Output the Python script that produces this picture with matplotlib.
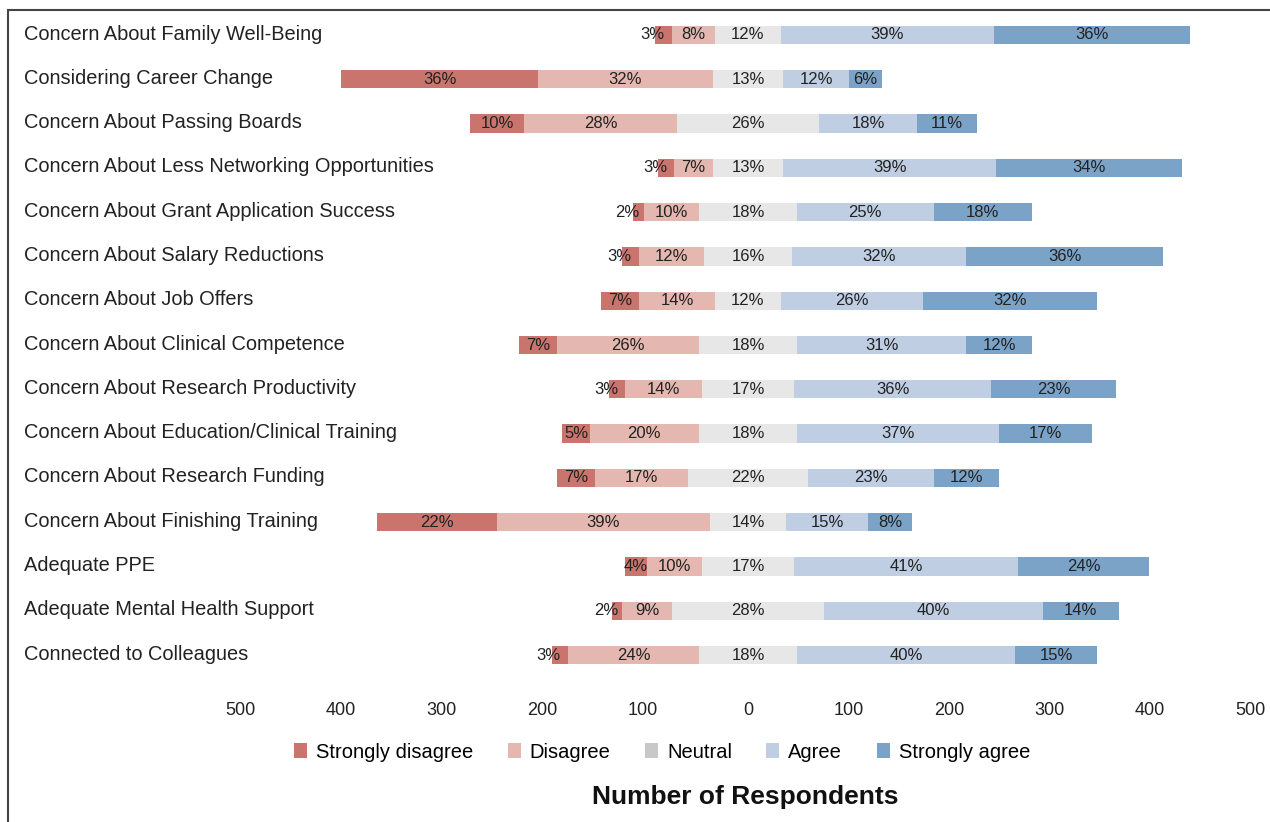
import numpy as np
import matplotlib
matplotlib.use('Agg')
import matplotlib.pyplot as plt
import matplotlib.transforms as mtransforms
from matplotlib.patches import Patch, Rectangle

plt.rcParams['font.family'] = ['Liberation Sans', 'DejaVu Sans']

# survey items, top to bottom
items = ['Concern About Family Well-Being', 'Considering Career Change',
         'Concern About Passing Boards', 'Concern About Less Networking Opportunities',
         'Concern About Grant Application Success', 'Concern About Salary Reductions',
         'Concern About Job Offers', 'Concern About Clinical Competence',
         'Concern About Research Productivity', 'Concern About Education/Clinical Training',
         'Concern About Research Funding', 'Concern About Finishing Training',
         'Adequate PPE', 'Adequate Mental Health Support', 'Connected to Colleagues']

# percent of all respondents
strongly_disagree = [3, 36, 10, 3, 2, 3, 7, 7, 3, 5, 7, 22, 4, 2, 3]
disagree = [8, 32, 28, 7, 10, 12, 14, 26, 14, 20, 17, 39, 10, 9, 24]
neutral = [12, 13, 26, 13, 18, 16, 12, 18, 17, 18, 22, 14, 17, 28, 18]
agree = [39, 12, 18, 39, 25, 32, 26, 31, 36, 37, 23, 15, 41, 40, 40]
strongly_agree = [36, 6, 11, 34, 18, 36, 32, 12, 23, 17, 12, 8, 24, 14, 15]
n_respondents = 543

levels = ['Strongly disagree', 'Disagree', 'Neutral', 'Agree', 'Strongly agree']
colors = ['#c9746d', '#e4b8b0', '#e6e7e6', '#bfcee3', '#7ba3c8']
legend_colors = ['#c9746d', '#e4b8b0', '#c8c8c8', '#bfcee3', '#7ba3c8']
xticks = [-500, -400, -300, -200, -100, 0, 100, 200, 300, 400, 500]

W, H = 1270, 822
fig = plt.figure(figsize=(W / 100, H / 100), dpi=100)
ax = fig.add_axes([225.4 / W, 1 - 681.6 / H, 1045.2 / W, 673.2 / H])

pct = np.array([strongly_disagree, disagree, neutral, agree, strongly_agree], dtype=float)
counts = pct / 100.0 * n_respondents
y = np.arange(len(items))

# neutral block is centred on zero
left = -counts[0] - counts[1] - counts[2] / 2.0
for k in range(5):
    ax.barh(y, counts[k], left=left, height=0.41, color=colors[k], linewidth=0)
    for i in range(len(items)):
        p = int(pct[k, i])
        cx = left[i] + counts[k, i] / 2.0
        if k == 0 and p <= 3:
            ax.text(cx + 1, y[i], '%d%%' % p, ha='right', va='center',
                    fontsize=12, color='#222222')
        else:
            ax.text(cx, y[i], '%d%%' % p, ha='center', va='center',
                    fontsize=12, color='#222222')
    left = left + counts[k]

ax.set_xlim(-520, 520)
ax.set_ylim(len(items) - 0.4, -0.6)
ax.set_xticks(xticks)
ax.set_xticklabels([str(abs(t)) for t in xticks], fontsize=13, color='#222222')
ax.set_yticks([])
ax.tick_params(axis='x', length=0, pad=15)
# left-hand labels sit a little further left in the original
shift = mtransforms.ScaledTranslation(-5 / 100, 0, fig.dpi_scale_trans)
for t, lab in zip(xticks, ax.get_xticklabels()):
    if t < 0:
        lab.set_transform(lab.get_transform() + shift)
for s in ax.spines.values():
    s.set_visible(False)

trans = mtransforms.blended_transform_factory(fig.transFigure, ax.transData)
for i, name in enumerate(items):
    ax.text(24 / W, y[i] - 0.02, name, transform=trans, ha='left', va='center',
            fontsize=14.4, color='#222222')

handles = [Patch(facecolor=c, edgecolor='none') for c in legend_colors]
fig.legend(handles, levels, loc='center', bbox_to_anchor=(662 / W, 1 - 752 / H),
           ncol=5, frameon=False, fontsize=14.5, handlelength=0.65, handleheight=0.8,
           handletextpad=0.45, columnspacing=1.7)

fig.text(745 / W, 1 - 797 / H, 'Number of Respondents', ha='center', va='center',
         fontsize=19, fontweight='bold', color='#111111')

# frame cut off at right and bottom
fig.patches.append(Rectangle((8 / W, -0.1), 1.2, 1 - 10 / H + 0.1, transform=fig.transFigure,
                             fill=False, edgecolor='#444444', linewidth=1.5))

fig.savefig('out.png', dpi=100)
